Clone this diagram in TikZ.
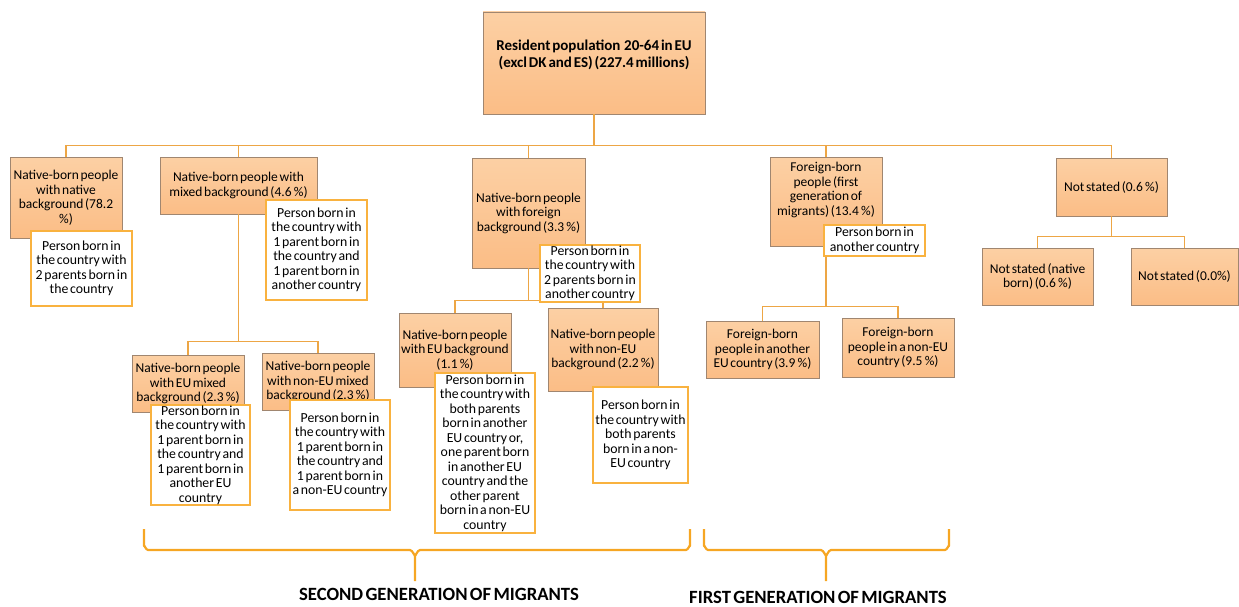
\documentclass[tikz,border=0pt]{standalone}
\usepackage{fontspec}
\setmainfont{Carlito}[WordSpace=0.55]
\definecolor{boxtop}{HTML}{FCD0A4}
\definecolor{boxbot}{HTML}{FBBD86}
\definecolor{boxline}{HTML}{A08670}
\definecolor{noteline}{HTML}{F9B23F}
\definecolor{conline}{HTML}{EDA645}
\definecolor{braceline}{HTML}{F6A623}
\tikzset{
  obox/.style={draw=boxline, line width=0.7pt, top color=boxtop, bottom color=boxbot,
    inner sep=0pt, align=center, font=\fontsize{13.5}{14.5}\selectfont},
  rootbox/.style={obox, font=\bfseries\fontsize{15}{16.5}\selectfont},
  note/.style={draw=noteline, line width=1.1pt, fill=white, inner sep=0pt, align=center,
    font=\fontsize{13.8}{14.5}\selectfont},
  conn/.style={draw=conline, line width=1.3pt},
  bracepath/.style={draw=braceline, line width=2.2pt, line join=round},
  genlabel/.style={font=\bfseries\fontsize{18.7}{20}\selectfont, inner sep=0pt}
}
\begin{document}
\begin{tikzpicture}[x=1pt, y=-1pt]
\useasboundingbox (0,0) rectangle (1239,607);

% ---------- main boxes ----------
\node[rootbox, minimum width=222pt, minimum height=102pt] (root) at (594,63)
  {Resident population \ 20-64 in EU\\(excl DK and ES) (227.4 millions)\\[2pt]\mbox{}};

\node[obox, minimum width=112pt, minimum height=81pt] (n1) at (66,197.5)
  {Native-born people\\with native\\background (78.2\\\%)};
\node[obox, minimum width=157pt, minimum height=57pt] (n2) at (238.5,185.5)
  {Native-born people with\\mixed background (4.6\,\%)};
\node[obox, minimum width=113pt, minimum height=110pt] (n3) at (528.5,213)
  {Native-born people\\with foreign\\background (3.3\,\%)};
\node[obox, minimum width=112pt, minimum height=89pt] (n4) at (826,201.5)
  {Foreign-born\\people (first\\generation of\\migrants) (13.4\,\%)\\[11pt]\mbox{}};
\node[obox, minimum width=111pt, minimum height=58pt] (n5) at (1111.5,187)
  {Not stated (0.6\,\%)};

\node[obox, minimum width=112pt, minimum height=57pt] (m1) at (188,383.5)
  {Native-born people\\with EU mixed\\background (2.3\,\%)};
\node[obox, minimum width=112pt, minimum height=57pt] (m2) at (318,381.5)
  {Native-born people\\with non-EU mixed\\background (2.3\,\%)};

\node[obox, minimum width=112pt, minimum height=74pt] (f1) at (455,350)
  {Native-born people\\with EU background\\(1.1\,\%)};
\node[obox, minimum width=110pt, minimum height=83pt] (f2) at (603,349.5)
  {Native-born people\\with non-EU\\background (2.2\,\%)};

\node[obox, minimum width=113pt, minimum height=57pt] (g1) at (762.5,349.5)
  {Foreign-born\\people in another\\EU country (3.9\,\%)};
\node[obox, minimum width=112pt, minimum height=59pt] (g2) at (898,347.5)
  {Foreign-born\\people in a non-EU\\country (9.5\,\%)};

\node[obox, minimum width=111pt, minimum height=57pt] (s1) at (1037.5,276.5)
  {Not stated (native\\born) (0.6\,\%)};
\node[obox, minimum width=107pt, minimum height=57pt] (s2) at (1184.5,276.5)
  {Not stated (0.0\%)};

% ---------- connectors ----------
\draw[conn] (root.south) -- ++(0,31) -| (n1.north);
\draw[conn] (root.south) -- ++(0,31) -| (n2.north);
\draw[conn] (root.south) -- ++(0,31) -| (n3.north);
\draw[conn] (root.south) -- ++(0,31) -| (n4.north);
\draw[conn] (root.south) -- ++(0,31) -| (n5.north);

\draw[conn] (n2.south) -- ++(0,127) -| (m1.north);
\draw[conn] (n2.south) -- ++(0,127) -| (m2.north);

\draw[conn] (n3.south) -- ++(0,32) -| (f1.north);
\draw[conn] (n3.south) -- ++(0,32) -| (f2.north);

\draw[conn] (n4.south) -- ++(0,60) -| (g1.north);
\draw[conn] (n4.south) -- ++(0,60) -| (g2.north);

\draw[conn] (n5.south) -- ++(0,20) -| (s1.north);
\draw[conn] (n5.south) -- ++(0,20) -| (s2.north);

% ---------- notes ----------
\node[note, minimum width=101pt, minimum height=75pt] (t1) at (81.5,268.5)
  {Person born in\\the country with\\2 parents born in\\the country};
\node[note, minimum width=101pt, minimum height=100pt] (t2) at (316.5,250)
  {Person born in\\the country with\\1 parent born in\\the country and\\1 parent born in\\another country};
\node[note, minimum width=100pt, minimum height=57pt] (t3) at (590,273.5)
  {Person born in\\the country with\\2 parents born in\\another country};
\node[note, minimum width=101pt, minimum height=31pt] (t4) at (874.5,240.5)
  {Person born in\\another country};

\node[note, minimum width=99pt, minimum height=100pt] (tm1) at (200.5,455)
  {Person born in\\the country with\\1 parent born in\\the country and\\1 parent born in\\another EU\\country};
\node[note, minimum width=100pt, minimum height=110pt] (tm2) at (340,455)
  {Person born in\\the country with\\1 parent born in\\the country and\\1 parent born in\\a non-EU country};

\node[note, minimum width=100pt, minimum height=160pt] (tf1) at (485,453)
  {Person born in\\the country with\\both parents\\born in another\\EU country or,\\one parent born\\in another EU\\country and the\\other parent\\born in a non-EU\\country};
\node[note, minimum width=95pt, minimum height=96pt] (tf2) at (640.5,435)
  {Person born in\\the country with\\both parents\\born in a non-\\EU country};

% ---------- braces ----------
\draw[bracepath] (144,529) -- (144,546) to[out=90,in=180] (148,550) -- (410,550)
  to[out=0,in=-90] (415,555) -- (415,581);
\draw[bracepath] (415,555) to[out=-90,in=180] (420,550) -- (686,550)
  to[out=0,in=90] (690,546) -- (690,529);

\draw[bracepath] (704,529) -- (704,546) to[out=90,in=180] (708,550) -- (821,550)
  to[out=0,in=-90] (826,555) -- (826,581);
\draw[bracepath] (826,555) to[out=-90,in=180] (831,550) -- (945,550)
  to[out=0,in=90] (949,546) -- (949,529);

\node[genlabel] (second) at (439,594) {SECOND GENERATION OF MIGRANTS};
\node[genlabel] (first) at (818,597.5) {FIRST GENERATION OF MIGRANTS};
\end{tikzpicture}
\end{document}
